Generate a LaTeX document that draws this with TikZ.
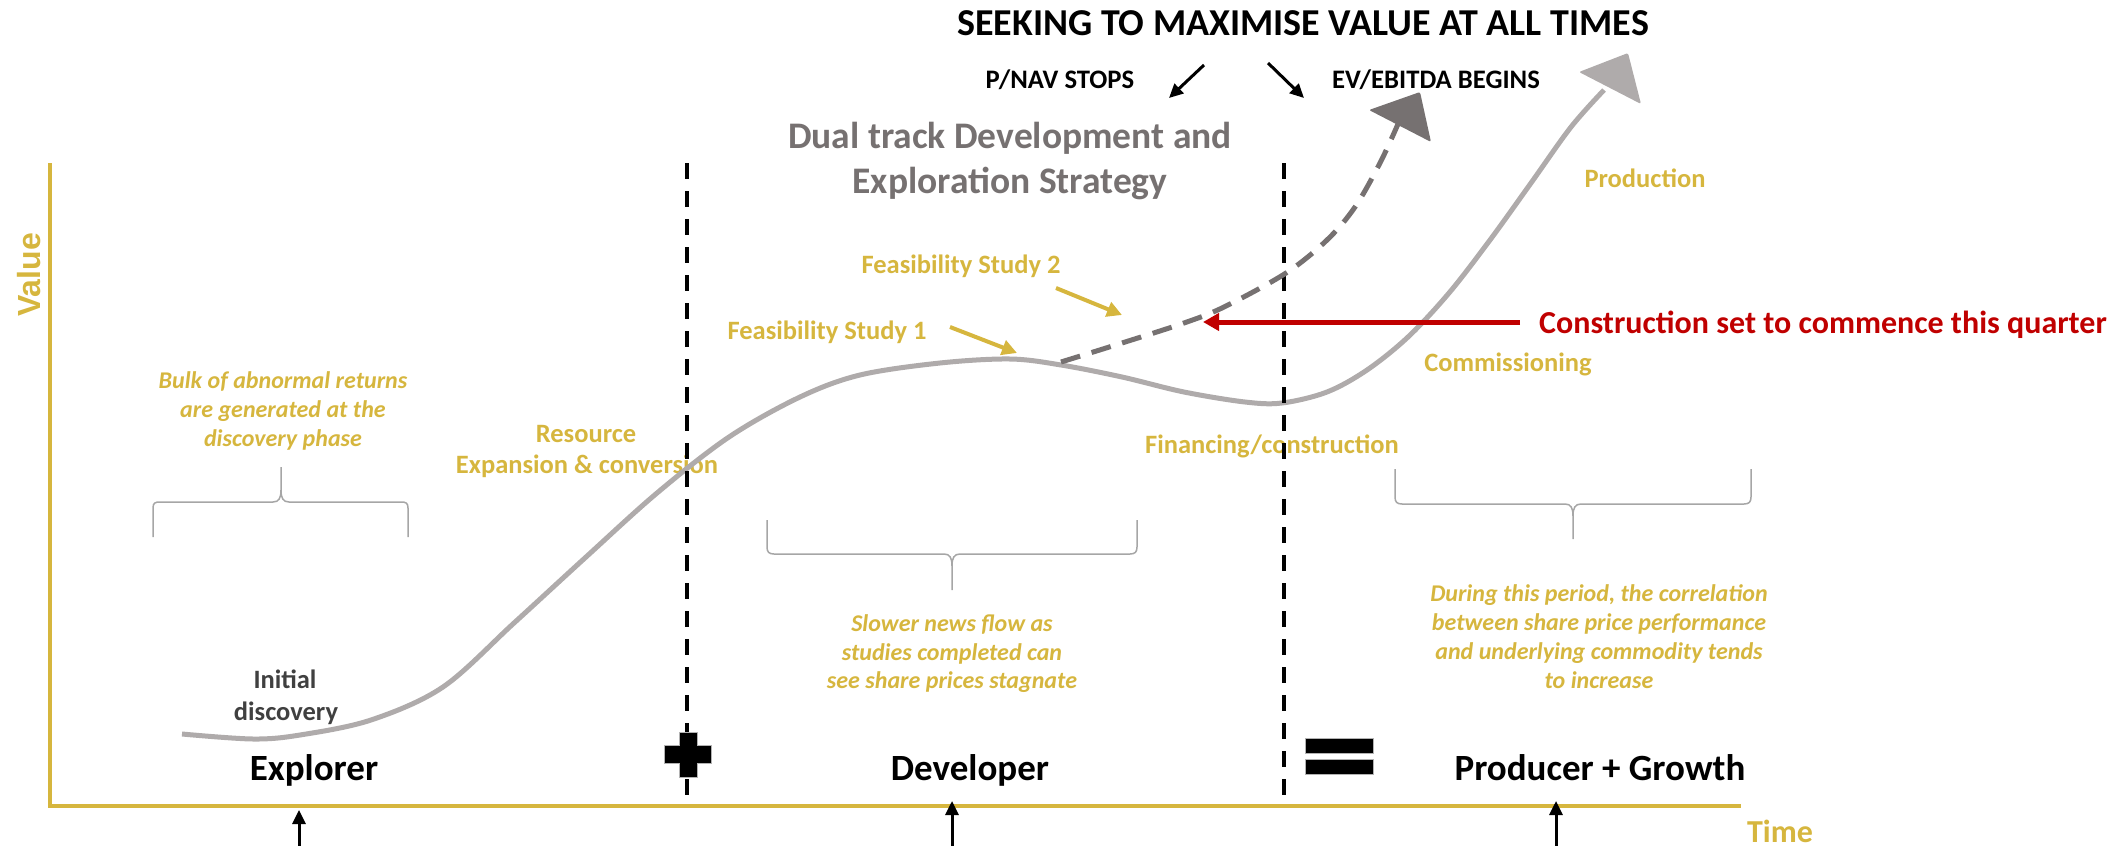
\documentclass[tikz,border=0pt]{standalone}
\usepackage{fontspec}
\setmainfont{Carlito}
\newfontfamily\arialfont{Liberation Sans}
\usetikzlibrary{arrows.meta}
\definecolor{gold}{RGB}{214,182,62}
\definecolor{redc}{RGB}{192,0,0}
\definecolor{darkg}{RGB}{118,113,113}
\definecolor{lightg}{RGB}{175,171,171}
\definecolor{braceg}{RGB}{166,166,166}
\definecolor{textg}{RGB}{64,64,64}
\newcommand{\myfs}[1]{\fontsize{#1pt}{#1pt}\selectfont}
\begin{document}
\begin{tikzpicture}[x=1pt,y=-1pt,
  lbl/.style={inner sep=0pt, anchor=base, font=\bfseries\myfs{26.5}, text=gold},
  ital/.style={inner sep=0pt, anchor=base, font=\bfseries\itshape\myfs{24}, text=gold},
  hdr/.style={inner sep=0pt, anchor=base, font=\bfseries\myfs{26.7}, text=black},
  bigtitle/.style={inner sep=0pt, anchor=base, font=\bfseries\myfs{38}, text=black},
  dual/.style={inner sep=0pt, anchor=base, font=\bfseries\myfs{37.5}, text=darkg},
  phase/.style={inner sep=0pt, anchor=base, font=\bfseries\myfs{37}, text=black},
  redlbl/.style={inner sep=0pt, anchor=base west, font=\bfseries\myfs{32}, text=redc},
  axis/.style={draw=gold, line width=3.5pt},
  vdash/.style={draw=black, line width=3.5pt, dash pattern=on 16pt off 12pt},
  maincurve/.style={draw=lightg, line width=5pt},
  dashcurve/.style={draw=darkg, line width=5pt, dash pattern=on 20pt off 12pt},
  bracestyle/.style={draw=braceg, line width=1.5pt},
  goldarrow/.style={draw=gold, line width=4pt, -{Triangle[length=15pt,width=15pt]}},
  blackarrow/.style={draw=black, line width=3pt, -{Triangle[length=14pt,width=13pt]}},
  redarrow/.style={draw=redc, line width=5pt, -{Triangle[length=16pt,width=17pt]}},
  signbox/.style={fill=black, draw=gray!60, line width=1pt}
]
\useasboundingbox (0,0) rectangle (2113,846);

% ---- texts ----
\node[bigtitle] (title) at (1303,35) {SEEKING TO MAXIMISE VALUE AT ALL TIMES};
\node[hdr] (pnav) at (1060,88) {P/NAV STOPS};
\node[hdr] (ev) at (1436,88) {EV/EBITDA BEGINS};
\node[dual] (dual1) at (1010,148) {Dual track Development and};
\node[dual] (dual2) at (1010,193) {Exploration Strategy};
\node[lbl] (fs1) at (827,339) {Feasibility Study 1};
\node[lbl] (fs2) at (961,273) {Feasibility Study 2};
\node[lbl] (prod) at (1645,187) {Production};
\node[lbl] (comm) at (1508,371) {Commissioning};
\node[lbl] (fin) at (1272,453) {Financing/construction};
\node[lbl] (res1) at (586,442) {Resource};
\node[lbl] (res2) at (587,473) {Expansion \& conversion};
\node[lbl, text=textg] (init1) at (285,688) {Initial};
\node[lbl, text=textg] (init2) at (286,720) {discovery};
\node[phase] (explorer) at (314,780) {Explorer};
\node[phase] (developer) at (970,780) {Developer};
\node[phase] (producer) at (1600,780) {Producer + Growth};
\node[redlbl] (constr) at (1539,333) {Construction set to commence this quarter};
\node[inner sep=0pt, anchor=base, rotate=90, font=\arialfont\bfseries\myfs{32}, text=gold] (value) at (40,275) {Value};
\node[inner sep=0pt, anchor=base, font=\bfseries\myfs{32}, text=gold] (time) at (1780,842) {Time};

\node[ital] (b1) at (283,388) {Bulk of abnormal returns};
\node[ital] (b2) at (283,417) {are generated at the};
\node[ital] (b3) at (283,446) {discovery phase};
\node[ital] (s1) at (952,631) {Slower news flow as};
\node[ital] (s2) at (952,660) {studies completed can};
\node[ital] (s3) at (952,688) {see share prices stagnate};
\node[ital] (d1) at (1599,601) {During this period, the correlation};
\node[ital] (d2) at (1599,630) {between share price performance};
\node[ital] (d3) at (1599,659) {and underlying commodity tends};
\node[ital] (d4) at (1599,688) {to increase};

% ---- axes ----
\draw[axis] (50,163) -- (50,806) -- (1741,806);

% ---- braces ----
\draw[bracestyle] (153,537) -- (153,508) .. controls (153,503) and (155,502) .. (160,502) -- (273,502) .. controls (279,502) and (281,498) .. (281,490) -- (281,467);
\draw[bracestyle] (408,537) -- (408,508) .. controls (408,503) and (406,502) .. (401,502) -- (289,502) .. controls (283,502) and (281,498) .. (281,490);
\draw[bracestyle] (767,520) -- (767,547) .. controls (767,552) and (769,554) .. (774,554) -- (944,554) .. controls (950,554) and (952,558) .. (952,566) -- (952,590);
\draw[bracestyle] (1137,520) -- (1137,547) .. controls (1137,552) and (1135,554) .. (1130,554) -- (960,554) .. controls (954,554) and (952,558) .. (952,566);
\draw[bracestyle] (1395,469) -- (1395,497) .. controls (1395,502) and (1397,504) .. (1402,504) -- (1565,504) .. controls (1571,504) and (1573,508) .. (1573,516) -- (1573,539);
\draw[bracestyle] (1751,469) -- (1751,497) .. controls (1751,502) and (1749,504) .. (1744,504) -- (1581,504) .. controls (1575,504) and (1573,508) .. (1573,516);

% ---- main curve ----
\draw[maincurve] plot[smooth, tension=0.55] coordinates {(182,734) (253,739) (300,735) (371,720) (443,687) (514,623) (586,557) (657,493) (729,437) (800,397) (860,375) (940,363) (1010,359) (1061,365) (1122,377) (1184,392) (1245,402) (1282,403) (1327,392) (1367,370) (1408,337) (1449,293) (1490,240) (1531,183) (1571,127) (1604,90)};
\fill[lightg, rounded corners=2pt] (1628,53) -- (1579,72) -- (1641,104) -- cycle;

% ---- arrows ----
\coordinate (fs1a) at (950,327); \coordinate (fs1b) at (1017,353);
\coordinate (fs2a) at (1056,288); \coordinate (fs2b) at (1122,315);
\draw[goldarrow] (fs1a) -- (fs1b);
\draw[goldarrow] (fs2a) -- (fs2b);
\coordinate (pa) at (1204,65); \coordinate (pb) at (1169,98);
\coordinate (ea) at (1268,63); \coordinate (eb) at (1304,98);
\draw[blackarrow] (pa) -- (pb);
\draw[blackarrow] (ea) -- (eb);
\coordinate (ra) at (1520,322); \coordinate (rb) at (1203,322);
\draw[redarrow] (ra) -- (rb);
\coordinate (u1a) at (299,846); \coordinate (u1b) at (299,810);
\coordinate (u2a) at (952,846); \coordinate (u2b) at (952,801);
\coordinate (u3a) at (1556,846); \coordinate (u3b) at (1556,801);
\draw[blackarrow] (u1a) -- (u1b);
\draw[blackarrow] (u2a) -- (u2b);
\draw[blackarrow] (u3a) -- (u3b);

% ---- dashed separators ----
\draw[vdash] (687,163) -- (687,795);
\draw[vdash] (1284,163) -- (1284,795);

% ---- dashed track curve ----
\draw[dashcurve] plot[smooth, tension=0.55] coordinates {(1061,362) (1122,343) (1184,323) (1224,307) (1286,273) (1327,240) (1355,207) (1380,163) (1398,124)};
\fill[darkg, rounded corners=2pt] (1420,92) -- (1369,110) -- (1431,142) -- cycle;

% ---- plus and equals ----
\draw[signbox] (679,732) -- (697,732) -- (697,745) -- (711,745) -- (711,763) -- (697,763) -- (697,777) -- (679,777) -- (679,763) -- (664,763) -- (664,745) -- (679,745) -- cycle;
\draw[signbox] (1305,738) rectangle (1373,753);
\draw[signbox] (1305,759) rectangle (1373,774);
\end{tikzpicture}
\end{document}
